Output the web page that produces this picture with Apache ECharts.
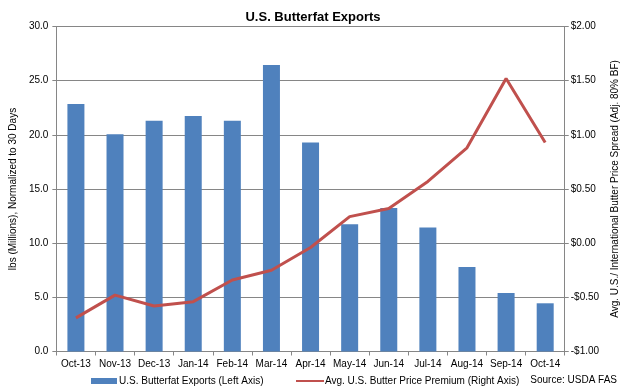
<!DOCTYPE html>
<html><head><meta charset="utf-8">
<script src="https://cdn.jsdelivr.net/npm/echarts@6/dist/echarts.min.js"></script>
<style>html,body{margin:0;padding:0;background:#fff}#c{width:628px;height:388px}</style>
</head><body><div id="c"></div>
<script>
const categories = ['Oct-13','Nov-13','Dec-13','Jan-14','Feb-14','Mar-14','Apr-14','May-14','Jun-14','Jul-14','Aug-14','Sep-14','Oct-14'];
const exportsLbs = [22.85, 20.05, 21.3, 21.75, 21.3, 26.45, 19.3, 11.75, 13.25, 11.45, 7.8, 5.4, 4.45];
const pricePremium = [-0.69, -0.48, -0.58, -0.54, -0.34, -0.25, -0.04, 0.245, 0.32, 0.57, 0.88, 1.52, 0.93];
const leftTicks = [0, 5, 10, 15, 20, 25, 30];
const rightTicks = [-1, -0.5, 0, 0.5, 1, 1.5, 2];

const FONT = 'Liberation Sans';
const chart = echarts.init(document.getElementById('c'), null, {renderer: 'canvas'});
chart.setOption({
  animation: false,
  textStyle: {fontFamily: FONT},
  title: {text: 'U.S. Butterfat Exports', left: 308, top: 6, textAlign: 'center',
    textStyle: {fontSize: 13, fontWeight: 'bold', color: '#000', fontFamily: FONT}},
  grid: {left: 47, right: 58, top: 26.5, bottom: 36.5},
  legend: [
    {data: [{name: 'U.S. Butterfat Exports (Left Axis)', icon: 'rect'}], left: 86, top: 371,
     itemWidth: 26, itemHeight: 6, itemGap: 4,
     textStyle: {fontSize: 10, color: '#000', fontFamily: FONT, padding: [0,0,0,-3]}},
    {data: [{name: 'Avg. U.S. Butter Price Premium (Right Axis)'}], left: 290, top: 371,
     itemWidth: 28, itemHeight: 7, itemGap: 4,
     itemStyle: {opacity: 0},
     textStyle: {fontSize: 10, color: '#000', fontFamily: FONT, padding: [0,0,0,-4]}}
  ],
  graphic: [{type: 'text', right: 11, top: 375,
    style: {text: 'Source: USDA FAS', fontSize: 10, fill: '#000', fontFamily: FONT}}],
  xAxis: {type: 'category', data: categories, boundaryGap: true,
    axisLine: {lineStyle: {color: '#868686', width: 1}},
    axisTick: {show: true, length: 4, alignWithLabel: false, lineStyle: {color: '#868686'}},
    axisLabel: {fontSize: 10, color: '#000', margin: 8, interval: 0, fontFamily: FONT}},
  yAxis: [
    {type: 'value', min: 0, max: 30, interval: 5, position: 'left',
     name: 'lbs (Millions), Normalized to 30 Days', nameLocation: 'middle', nameGap: 35, nameRotate: 90,
     nameTextStyle: {fontSize: 10, color: '#000', fontFamily: FONT},
     axisLine: {show: true, lineStyle: {color: '#868686'}},
     axisTick: {show: true, length: 4, inside: false, lineStyle: {color: '#868686'}},
     splitLine: {lineStyle: {color: '#868686', width: 1}},
     axisLabel: {fontSize: 10, color: '#000', margin: 8, fontFamily: FONT,
       formatter: v => leftTicks.includes(v) ? v.toFixed(1) : ''}},
    {type: 'value', min: -1, max: 2, interval: 0.5, position: 'right',
     name: 'Avg. U.S./ International Butter Price Spread (Adj. 80% BF)', nameLocation: 'middle', nameGap: 45, nameRotate: 90,
     nameTextStyle: {fontSize: 10, color: '#000', fontFamily: FONT},
     axisLine: {show: true, lineStyle: {color: '#868686'}},
     axisTick: {show: true, length: 4, lineStyle: {color: '#868686'}},
     splitLine: {show: false},
     axisLabel: {fontSize: 10, color: '#000', margin: 6, fontFamily: FONT,
       formatter: v => rightTicks.some(t => Math.abs(t - v) < 1e-9) ? (v < 0 ? '-$' + Math.abs(v).toFixed(2) : '$' + v.toFixed(2)) : ''}}
  ],
  series: [
    {name: 'U.S. Butterfat Exports (Left Axis)', type: 'bar', data: exportsLbs, yAxisIndex: 0,
     barWidth: 17, itemStyle: {color: '#4F81BD'}},
    {name: 'Avg. U.S. Butter Price Premium (Right Axis)', type: 'line', data: pricePremium, yAxisIndex: 1,
     symbol: 'none', lineStyle: {color: '#C0504D', width: 3}, itemStyle: {color: '#C0504D'}}
  ]
});
</script></body></html>
